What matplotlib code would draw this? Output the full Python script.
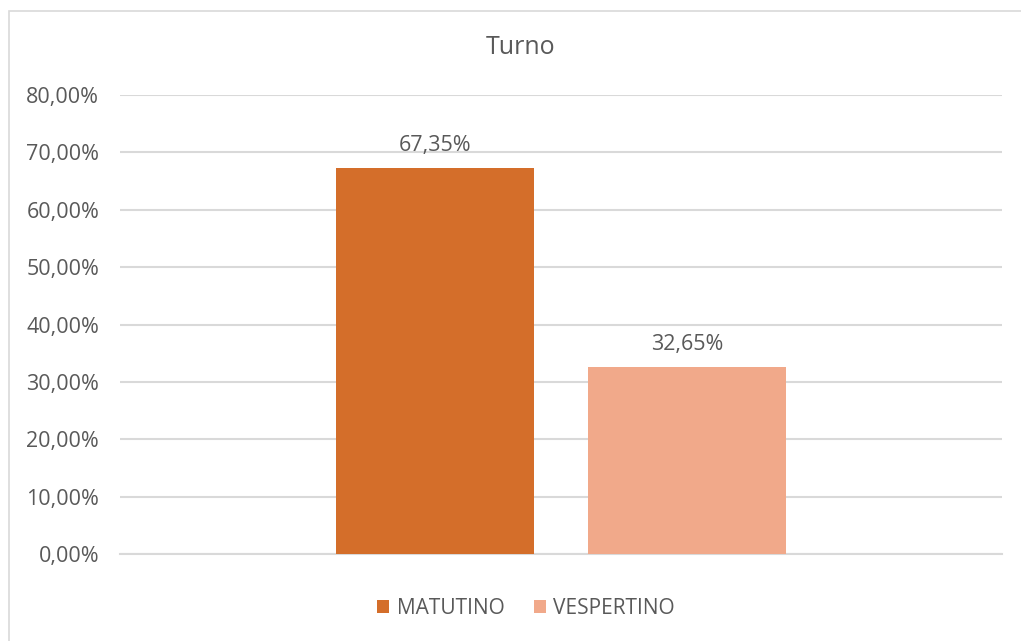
import matplotlib.pyplot as plt
from matplotlib.patches import Rectangle

# data
series = ['MATUTINO', 'VESPERTINO']
values = [67.35, 32.65]
colors = ['#D46E2A', '#F1A98A']
yticks = [0, 10, 20, 30, 40, 50, 60, 70, 80]

plt.rcParams['font.family'] = ['Open Sans', 'DejaVu Sans']
text_color = '#595959'
grid_color = '#D9D9D9'

fig = plt.figure(figsize=(10.21, 6.41), dpi=100)
ax = fig.add_axes([120 / 1021, 1 - 554 / 641, 882 / 1021, (554 - 95) / 641])

# chart border (right and bottom edges fall outside the image)
fig.add_artist(Rectangle((9 / 1021, -0.05), 1.1, 1 - 11 / 641 + 0.05,
                         transform=fig.transFigure, fill=False,
                         edgecolor=grid_color, linewidth=1.2))

offsets = [-0.1429, 0.1429]
width = 0.2245
for name, val, col, off in zip(series, values, colors, offsets):
    ax.bar(off, val, width=width, color=col, label=name, zorder=3)
    ax.text(off, val + 2.0, f'{val:.2f}%'.replace('.', ','), ha='center',
            va='bottom', fontsize=15.5, color=text_color)

ax.set_xlim(-0.5, 0.5)
ax.set_ylim(0, 80)
ax.set_yticks(yticks)
ax.set_yticklabels([f'{t:.2f}%'.replace('.', ',') for t in yticks],
                   fontsize=15.5, color=text_color)
ax.set_xticks([])
ax.tick_params(axis='y', length=0, pad=15)
ax.grid(axis='y', color=grid_color, linewidth=1.5, zorder=0)
for side in ['top', 'right', 'left']:
    ax.spines[side].set_visible(False)
ax.spines['bottom'].set_color(grid_color)
ax.spines['bottom'].set_linewidth(1.5)

fig.text(521 / 1021, 1 - 48 / 641, 'Turno', ha='center', va='center',
         fontsize=18, color=text_color)

leg = fig.legend(loc='center', bbox_to_anchor=(526 / 1021, 1 - 608 / 641),
                 ncol=2, frameon=False, fontsize=15, handlelength=0.6,
                 handleheight=0.6, handletextpad=0.35, columnspacing=1.4)
for t in leg.get_texts():
    t.set_color(text_color)

fig.savefig('out.png', dpi=100)
